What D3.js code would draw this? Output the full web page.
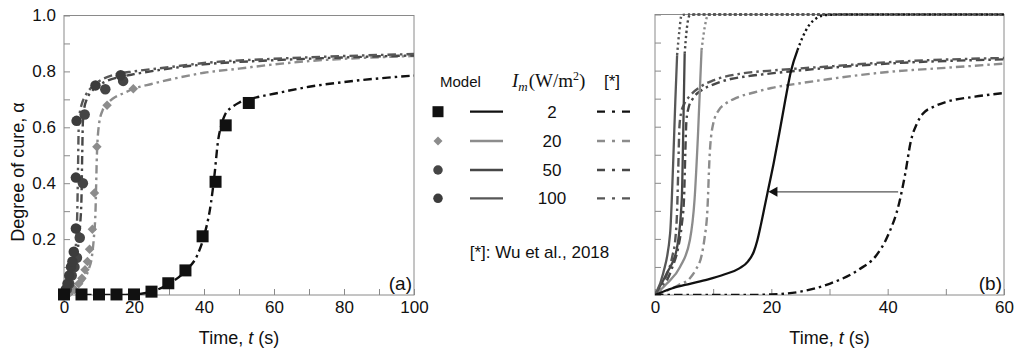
<!DOCTYPE html>
<html><head><meta charset="utf-8">
<script src="https://cdn.jsdelivr.net/npm/d3@7"></script>
<style>body{margin:0;background:#fff}svg{display:block}</style>
</head><body><svg id="c" width="1019" height="356"></svg>
<script>
// ---------- data ----------
const intensities = ["2", "20", "50", "100"];
const xTicksA = [0,10,20,30,40,50,60,70,80,90,100];
const xTicksB = [0,10,20,30,40,50,60];
const yTicks = [0,0.1,0.2,0.3,0.4,0.5,0.6,0.7,0.8,0.9,1.0];
const yLabelTicks = [0.2,0.4,0.6,0.8,1.0];

// Panel (a) model points
const m2T = [0,5,10,15,20,25,29.8,34.7,39.6,43.3,46.2,52.8];
const m2Y = [0.002,0.002,0.002,0.002,0.002,0.012,0.042,0.088,0.21,0.405,0.607,0.687];
const m20T = [0,0.8,1.8,3,4.2,5.1,6,6.7,7.3,8.1,8.7,9.4,12.3,19.8];
const m20Y = [0,0.005,0.01,0.02,0.04,0.06,0.09,0.12,0.164,0.235,0.365,0.53,0.679,0.738];
const m50T = [0,0.8,1.5,2.2,3,3.7,4.5,5.4,5.9,11.8,16.9];
const m50Y = [0,0.02,0.04,0.07,0.1,0.133,0.205,0.40,0.646,0.736,0.766];
const m100T = [0,0.5,1,1.5,2,2.4,2.8,3.4,3.4,3.6,9.0,16.2];
const m100Y = [0,0.02,0.04,0.07,0.1,0.12,0.155,0.238,0.42,0.623,0.75,0.786];

// Wu et al., 2018 curves (dash-dot)
const wu2T = [0,5,10,15,20,25,30,35,38,40,42,43,44,45,46,48,50,55,60,70,80,90,100];
const wu2Y = [0,0,0,0,0.002,0.012,0.04,0.09,0.14,0.21,0.33,0.43,0.55,0.61,0.645,0.672,0.688,0.707,0.72,0.745,0.762,0.775,0.785];
const wu20T = [0,2,4,6,7,8,8.5,9,9.4,10,11,12,14,17,20,25,30,40,50,60,70,80,100];
const wu20Y = [0,0.015,0.035,0.06,0.09,0.14,0.2,0.3,0.5,0.61,0.66,0.68,0.703,0.722,0.738,0.755,0.77,0.795,0.81,0.825,0.837,0.845,0.855];
const wu50T = [0,1,2,3,4,4.6,5,5.2,5.4,5.8,6.5,8,10,13,16,20,30,40,60,80,100];
const wu50Y = [0,0.02,0.05,0.1,0.17,0.25,0.35,0.5,0.62,0.67,0.7,0.73,0.75,0.77,0.78,0.79,0.81,0.825,0.84,0.85,0.857];
const wu100T = [0,1,2,3,3.5,3.8,4,4.2,4.5,5,6,8,10,15,20,30,40,60,80,100];
const wu100Y = [0,0.03,0.07,0.14,0.2,0.3,0.45,0.6,0.65,0.68,0.71,0.745,0.765,0.79,0.8,0.815,0.83,0.845,0.855,0.862];

// Panel (b) model curves: solid part and dotted continuation
const sol2T = [0,3,6,9,12,14.5,16,17,17.6,18.2,18.8,19.4,20.4,21.4,22.4,23.4,24.5];
const sol2Y = [0,0.024,0.04,0.055,0.074,0.095,0.12,0.155,0.195,0.25,0.31,0.37,0.47,0.58,0.695,0.8,0.873];
const dot2T = [24.5,25.4,26.5,27.7,29.4,32,60];
const dot2Y = [0.873,0.92,0.962,0.986,0.998,1,1];
const sol20T = [0,2,4.3,6,6.8,7.4,8];
const sol20Y = [0,0.04,0.1,0.196,0.34,0.576,0.873];
const dot20T = [8,8.56,9.1,10,60];
const dot20Y = [0.873,0.956,0.998,1,1];
const sol50T = [0,2,3.7,4.6,4.85,5.1];
const sol50Y = [0,0.077,0.16,0.34,0.576,0.86];
const dot50T = [5.1,5.5,6,7,60];
const dot50Y = [0.86,0.955,0.998,1,1];
const sol100T = [0,1.4,2.6,3.1,3.5,3.8];
const sol100Y = [0,0.077,0.22,0.457,0.695,0.855];
const dot100T = [3.8,4.2,4.56,5.5,60];
const dot100Y = [0.855,0.944,0.998,1,1];

// arrow in (b)
const arrowT = [41.8, 19.5];
const arrowY = 0.368;

// ---------- styles ----------
const lineColors = ["#111111","#8c8c8c","#474747","#575757"];
const markerColors = ["#111111","#8c8c8c","#454545","#3c3c3c"];
const frameColor = "#8a8a8a";
const SANS = "'Liberation Sans', Arial, sans-serif";
const SERIF = "'Liberation Serif', 'Times New Roman', serif";
const DASHDOT = "8.5,4,2.5,4";
const DOTTED = "2.2,3";

const svg = d3.select("#c");
const zip = (T, Y) => T.map((t, i) => [t, Y[i]]);

const wuT = [wu2T, wu20T, wu50T, wu100T];
const wuY = [wu2Y, wu20Y, wu50Y, wu100Y];

function makePanel(id, left, right, top, bottom, xmax, xTicks, showYLabels, label) {
  const x = d3.scaleLinear().domain([0, xmax]).range([left, right]);
  const y = d3.scaleLinear().domain([0, 1]).range([bottom, top]);
  const g = svg.append("g");
  svg.append("clipPath").attr("id", id).append("rect")
    .attr("x", left).attr("y", top - 2).attr("width", right - left).attr("height", bottom - top + 2);

  const xa = g.append("g").attr("transform", `translate(0,${bottom})`)
    .call(d3.axisBottom(x).tickValues(xTicks).tickSize(-6).tickPadding(6)
      .tickFormat(d => d % 20 === 0 ? d3.format("d")(d) : ""));
  xa.select(".domain").remove();
  xa.selectAll("line").attr("stroke", frameColor);
  xa.selectAll("text").attr("font-family", SANS).attr("font-size", 17).attr("fill", "#111");

  const ya = g.append("g").attr("transform", `translate(${left},0)`)
    .call(d3.axisLeft(y).tickValues(yTicks).tickSize(-6).tickPadding(8)
      .tickFormat(d => (showYLabels && yLabelTicks.some(v => Math.abs(v - d) < 1e-9)) ? d3.format(".1f")(d) : ""));
  ya.select(".domain").remove();
  ya.selectAll("line").attr("stroke", frameColor);
  ya.selectAll("text").attr("font-family", SANS).attr("font-size", 17).attr("fill", "#111");

  g.append("rect").attr("x", left).attr("y", top).attr("width", right - left).attr("height", bottom - top)
    .attr("fill", "none").attr("stroke", frameColor).attr("stroke-width", 1);

  const t = g.append("text").attr("x", (left + right) / 2).attr("y", bottom + 49)
    .attr("text-anchor", "middle").attr("font-family", SANS).attr("font-size", 18).attr("fill", "#111");
  t.append("tspan").text("Time, ");
  t.append("tspan").attr("font-style", "italic").text("t");
  t.append("tspan").text(" (s)");

  g.append("text").attr("x", right - 2).attr("y", bottom - 5).attr("text-anchor", "end")
    .attr("font-family", SANS).attr("font-size", 19).attr("fill", "#111").text(label);

  const plot = svg.append("g").attr("clip-path", `url(#${id})`);
  return {x, y, plot};
}

// ---------- panel (a) ----------
const A = makePanel("clipA", 64, 414, 15.5, 295, 100, xTicksA, true, "(a)");
const lineA = d3.line().x(d => A.x(d[0])).y(d => A.y(d[1])).curve(d3.curveMonotoneX);

const mT = [m2T, m20T, m50T, m100T];
const mY = [m2Y, m20Y, m50Y, m100Y];
const markerGroup = svg.append("g");
function drawMarker(sel, kind, cx, cy, size, color) {
  if (kind === 0) {
    sel.append("rect").attr("x", cx - size / 2).attr("y", cy - size / 2).attr("width", size).attr("height", size).attr("fill", color);
  } else if (kind === 1) {
    const s = size * 0.5;
    sel.append("path").attr("d", `M${cx},${cy - s}L${cx + s},${cy}L${cx},${cy + s}L${cx - s},${cy}Z`).attr("fill", color);
  } else {
    sel.append("circle").attr("cx", cx).attr("cy", cy).attr("r", size / 2).attr("fill", color);
  }
}
const markerSizes = [12, 9.5, 10.5, 10.5];
[1, 2, 3, 0].forEach(k => {
  zip(mT[k], mY[k]).forEach(p => drawMarker(markerGroup, k, A.x(p[0]), A.y(p[1]), markerSizes[k], markerColors[k]));
});

[1, 2, 3, 0].forEach(k => {
  A.plot.append("path").datum(zip(wuT[k], wuY[k])).attr("d", lineA)
    .attr("fill", "none").attr("stroke", lineColors[k]).attr("stroke-width", 2.4)
    .attr("stroke-dasharray", DASHDOT);
});

svg.append("text").attr("transform", "translate(24,172) rotate(-90)")
  .attr("text-anchor", "middle").attr("font-family", SANS).attr("font-size", 18).attr("fill", "#111")
  .text("Degree of cure, α");

// ---------- panel (b) ----------
const B = makePanel("clipB", 655, 1004, 14.5, 295, 60, xTicksB, false, "(b)");
const lineB = d3.line().x(d => B.x(d[0])).y(d => B.y(d[1])).curve(d3.curveMonotoneX);

[1, 2, 3, 0].forEach(k => {
  B.plot.append("path").datum(zip(wuT[k], wuY[k]).filter(p => p[0] <= 62)).attr("d", lineB)
    .attr("fill", "none").attr("stroke", lineColors[k]).attr("stroke-width", 2.4)
    .attr("stroke-dasharray", DASHDOT);
});
const solT = [sol2T, sol20T, sol50T, sol100T], solY = [sol2Y, sol20Y, sol50Y, sol100Y];
const dotT = [dot2T, dot20T, dot50T, dot100T], dotY = [dot2Y, dot20Y, dot50Y, dot100Y];
[1, 2, 3, 0].forEach(k => {
  B.plot.append("path").datum(zip(solT[k], solY[k])).attr("d", lineB)
    .attr("fill", "none").attr("stroke", lineColors[k]).attr("stroke-width", 2.3);
  B.plot.append("path").datum(zip(dotT[k], dotY[k])).attr("d", lineB)
    .attr("fill", "none").attr("stroke", lineColors[k]).attr("stroke-width", 2.4)
    .attr("stroke-dasharray", DOTTED);
});

const ax0 = B.x(arrowT[0]), ax1 = B.x(arrowT[1]), ay = B.y(arrowY);
svg.append("line").attr("x1", ax0).attr("x2", ax1 + 8).attr("y1", ay).attr("y2", ay)
  .attr("stroke", "#555").attr("stroke-width", 1.2);
svg.append("path").attr("d", `M${ax1},${ay}L${ax1 + 9},${ay - 5}L${ax1 + 9},${ay + 5}Z`).attr("fill", "#111");

// ---------- legend ----------
const L = svg.append("g");
L.append("text").attr("x", 440).attr("y", 87).attr("font-family", SANS).attr("font-size", 15).attr("fill", "#111").text("Model");
const im = L.append("text").attr("x", 512).attr("y", 87).attr("font-family", SERIF).attr("font-size", 19).attr("fill", "#111");
im.append("tspan").attr("font-style", "italic").text("I");
im.append("tspan").attr("font-style", "italic").attr("font-size", 13).attr("dy", 4).text("m");
im.append("tspan").attr("dy", -4).attr("dx", 1).text("(W/m");
im.append("tspan").attr("font-size", 12).attr("dy", -7).text("2");
im.append("tspan").attr("dy", 7).text(")");
L.append("text").attr("x", 604).attr("y", 87).attr("font-family", SANS).attr("font-size", 17).attr("fill", "#111").text("[*]");

const rowY = [111.7, 141, 170, 198.3];
const legSizes = [11, 9, 9.5, 9.5];
intensities.forEach((lab, k) => {
  const yy = rowY[k];
  drawMarker(L, k, 438, yy, legSizes[k], markerColors[k]);
  L.append("line").attr("x1", 470).attr("x2", 503).attr("y1", yy).attr("y2", yy)
    .attr("stroke", lineColors[k]).attr("stroke-width", 2.3);
  L.append("text").attr("x", 552).attr("y", yy + 6).attr("text-anchor", "middle")
    .attr("font-family", SANS).attr("font-size", 17).attr("fill", "#111").text(lab);
  L.append("line").attr("x1", 597).attr("x2", 632).attr("y1", yy).attr("y2", yy)
    .attr("stroke", lineColors[k]).attr("stroke-width", 2.3).attr("stroke-dasharray", "8,7,3,7");
});
L.append("text").attr("x", 539.5).attr("y", 258).attr("text-anchor", "middle")
  .attr("font-family", SANS).attr("font-size", 17).attr("fill", "#111").text("[*]: Wu et al., 2018");
</script>
</body></html>
